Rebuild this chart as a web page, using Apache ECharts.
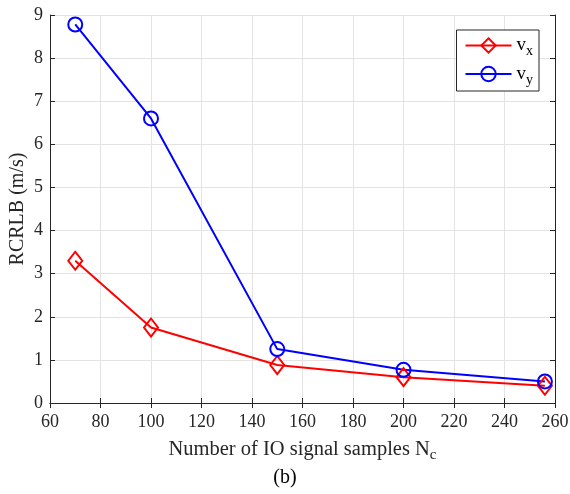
<!DOCTYPE html>
<html><head><meta charset="utf-8">
<script src="https://cdn.jsdelivr.net/npm/echarts@6/dist/echarts.min.js"></script>
<style>html,body{margin:0;padding:0;background:#fff}#c{width:570px;height:494px}</style>
</head><body><div id="c"></div>
<script>
const xValues = [70, 100, 150, 200, 256];
const vx = [3.3, 1.75, 0.88, 0.6, 0.4];
const vy = [8.78, 6.6, 1.25, 0.77, 0.5];
const xTicks = [60, 80, 100, 120, 140, 160, 180, 200, 220, 240, 260];
const yTicks = [0, 1, 2, 3, 4, 5, 6, 7, 8, 9];

const FONT = 'Liberation Serif';
const chart = echarts.init(document.getElementById('c'));
const axisLineC = '#262626';
const pair = (xs, ys) => xs.map((x, i) => [x, ys[i]]);
const richName = {sub: {fontFamily: FONT, fontSize: 15, color: '#262626', verticalAlign: 'bottom', padding: [12, 0, 0, 0]}};
const richLeg = {sub: {fontFamily: FONT, fontSize: 14, color: '#000', verticalAlign: 'bottom', padding: [12, 0, 0, 0]}};
chart.setOption({
  animation: false,
  grid: {left: 50, right: 15, top: 15, bottom: 91, outerBoundsMode: 'none', containLabel: false},
  xAxis: [{
    type: 'value', min: 60, max: 260, interval: 20,
    axisLine: {lineStyle: {color: axisLineC, width: 1}},
    axisTick: {inside: true, length: 5, lineStyle: {color: axisLineC}},
    splitLine: {show: true, lineStyle: {color: '#e3e3e3'}},
    axisLabel: {fontFamily: FONT, fontSize: 18, color: '#262626', margin: 10},
    name: 'Number of IO signal samples N{sub|c}', nameLocation: 'middle', nameGap: 33, nameMoveOverlap: false,
    nameTextStyle: {fontFamily: FONT, fontSize: 20.5, color: '#262626', rich: richName}
  }, {
    type: 'value', min: 60, max: 260, interval: 20, position: 'top',
    axisLine: {show: true, lineStyle: {color: axisLineC}},
    axisTick: {inside: true, length: 5, lineStyle: {color: axisLineC}},
    axisLabel: {show: false}, splitLine: {show: false}
  }],
  yAxis: [{
    type: 'value', min: 0, max: 9, interval: 1,
    axisLine: {show: true, lineStyle: {color: axisLineC}},
    axisTick: {show: true, inside: true, length: 5, lineStyle: {color: axisLineC}},
    splitLine: {show: true, lineStyle: {color: '#e3e3e3'}},
    axisLabel: {fontFamily: FONT, fontSize: 18, color: '#262626', margin: 7},
    name: 'RCRLB (m/s)', nameLocation: 'middle', nameGap: 22, nameMoveOverlap: false,
    nameTextStyle: {fontFamily: FONT, fontSize: 20, color: '#262626'}
  }, {
    type: 'value', min: 0, max: 9, interval: 1, position: 'right',
    axisLine: {show: true, lineStyle: {color: axisLineC}},
    axisTick: {show: true, inside: true, length: 5, lineStyle: {color: axisLineC}},
    axisLabel: {show: false}, splitLine: {show: false}
  }],
  legend: {
    right: 31, top: 30, orient: 'vertical',
    backgroundColor: '#fff', borderColor: '#262626', borderWidth: 1,
    padding: [6, 6, 4, 8], itemGap: 6, itemWidth: 46, itemHeight: 18,
    textStyle: {fontFamily: FONT, fontSize: 19, color: '#000', rich: richLeg},
    formatter: n => n === 'vx' ? 'v{sub|x}' : 'v{sub|y}',
    data: ['vx', 'vy']
  },
  series: [{
    name: 'vx', type: 'line', data: pair(xValues, vx),
    symbol: 'diamond', symbolSize: [14, 18],
    lineStyle: {width: 2, color: '#ff0000'},
    itemStyle: {color: 'rgba(255,255,255,0)', borderColor: '#ff0000', borderWidth: 2}
  }, {
    name: 'vy', type: 'line', data: pair(xValues, vy),
    symbol: 'circle', symbolSize: 14,
    lineStyle: {width: 2, color: '#0000ff'},
    itemStyle: {color: 'rgba(255,255,255,0)', borderColor: '#0000ff', borderWidth: 2}
  }],
  graphic: [{type: 'text', left: 'center', top: 468,
    style: {text: '(b)', fontFamily: FONT, fontSize: 20, fill: '#000'}}]
});
</script></body></html>
